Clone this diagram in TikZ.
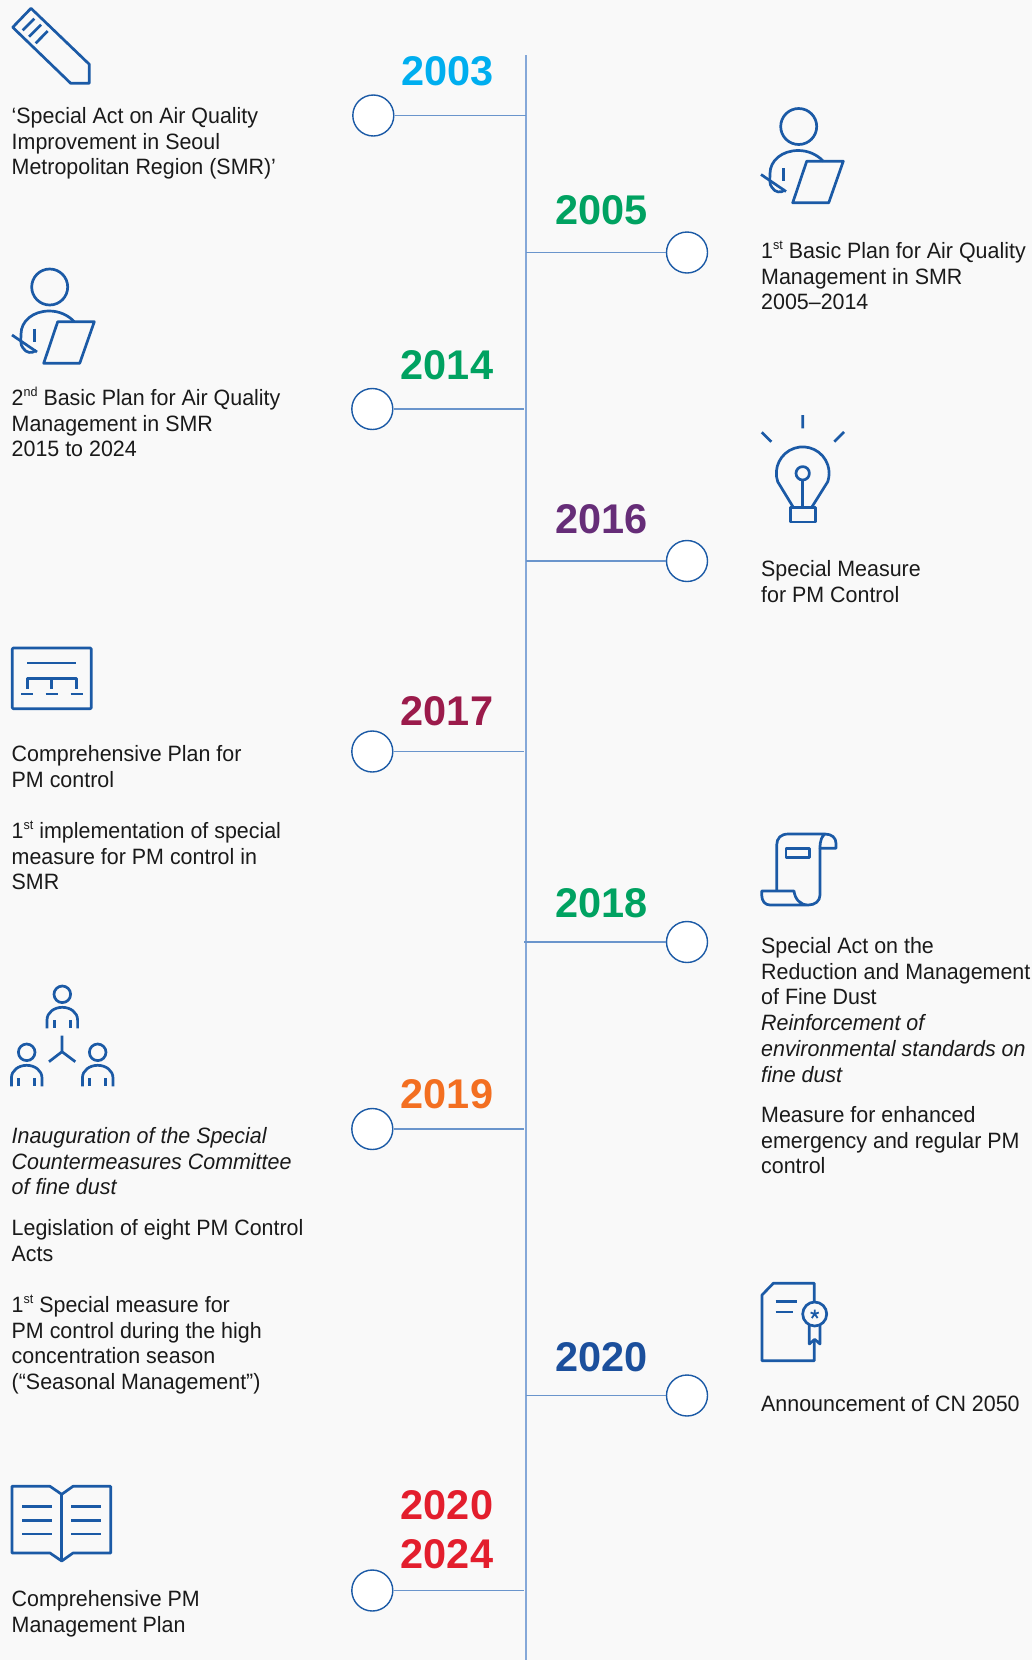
\documentclass[tikz,border=0pt]{standalone}
\usepackage{fontspec}
\setmainfont[FakeStretch=0.965]{Liberation Sans}
\newfontfamily\yearf{Liberation Sans}
\newcommand{\fl}{\rule{0pt}{20pt}}
\newcommand{\sps}[1]{\raisebox{0.40em}{\fontsize{13}{13}\selectfont #1}}
\definecolor{bg}{HTML}{F9F9F9}
\definecolor{ic}{HTML}{1B5AA6}
\definecolor{vl}{HTML}{85A8D8}
\definecolor{br}{HTML}{6A95CC}
\definecolor{ctext}{HTML}{1A1A1A}
\definecolor{y03}{HTML}{00AEEF}
\definecolor{ygr}{HTML}{00A261}
\definecolor{y16}{HTML}{662D78}
\definecolor{y17}{HTML}{9B1B4B}
\definecolor{y19}{HTML}{F36F21}
\definecolor{y20}{HTML}{1B4F9C}
\definecolor{y24}{HTML}{E31E2D}
\tikzset{
 yearlabel/.style={font=\yearf\bfseries\fontsize{41.5}{42}\selectfont,inner sep=0pt,anchor=center},
 para/.style={font=\fontsize{22.2}{25.8}\selectfont,color=ctext,inner sep=0pt,anchor=north west,align=left},
 dot/.style={circle,draw=ic,fill=white,line width=1.4pt,minimum size=41pt,inner sep=0pt},
 branch/.style={draw=br,line width=1.3pt},
 icon/.style={draw=ic,line width=2.7pt,line join=round},
 person/.pic={
  \draw[icon] (0,0) circle (18);
  \draw[icon] (24.6,34.7) .. controls (18.3,28) and (9.3,24) .. (-0.4,24) .. controls (-16.7,24) and (-28.7,34) .. (-28.7,47) .. controls (-28.7,52) and (-29.7,58) .. (-26.7,61) .. controls (-23.7,66) and (-17.7,67) .. (-13.7,63.3);
  \draw[icon] (8,34.7) -- (44.6,34.7) -- (30,76.3) -- (-6,76.3) -- cycle;
  \draw[icon] (-37.7,48) -- (-12.7,65);
  \draw[icon] (-15.4,41.7) -- (-15.4,54.7);
 },
 member/.pic={
  \draw[icon] (0,0) circle (8.3);
  \draw[icon] (-15.3,34) -- (-15.3,25.7) .. controls (-15.3,18) and (-8,13) .. (0,13) .. controls (8,13) and (15.3,18) .. (15.3,25.7) -- (15.3,34);
  \draw[icon] (-8,25.7) -- (-8,34) (8,25.7) -- (8,34);
 },
}
\begin{document}
\begin{tikzpicture}[x=1pt,y=-1pt]
\useasboundingbox[fill=bg] (0,0) rectangle (1032,1660);
\coordinate (top) at (526,55);
\coordinate (bot) at (526,1660);
\draw[draw=vl,line width=1.8pt] (top) -- (bot);
% dots and branches
\node[dot] (d03) at (373.3,115.5) {};
\node[dot] (d05) at (687,252.5) {};
\node[dot] (d14) at (372.3,409) {};
\node[dot] (d16) at (687,561) {};
\node[dot] (d17) at (372.3,751.5) {};
\node[dot] (d18) at (687,942) {};
\node[dot] (d19) at (372.3,1129) {};
\node[dot] (d20) at (687,1395.5) {};
\node[dot] (d24) at (372.3,1590.5) {};
\coordinate (j03) at (526,115.5);
\coordinate (j05) at (526,252.5);
\coordinate (j14) at (524,409);
\coordinate (j16) at (526,561);
\coordinate (j17) at (524,751.5);
\coordinate (j18) at (524,942);
\coordinate (j19) at (524,1129);
\coordinate (j20) at (526,1395.5);
\coordinate (j24) at (524,1590.5);
\draw[branch] (d03) -- (j03);
\draw[branch] (j05) -- (d05);
\draw[branch] (d14) -- (j14);
\draw[branch] (j16) -- (d16);
\draw[branch] (d17) -- (j17);
\draw[branch] (j18) -- (d18);
\draw[branch] (d19) -- (j19);
\draw[branch] (j20) -- (d20);
\draw[branch] (d24) -- (j24);
% years
\node[yearlabel,color=y03] (t03) at (447.5,71) {2003};
\node[yearlabel,color=ygr] (t05) at (601.5,210) {2005};
\node[yearlabel,color=ygr] (t14) at (447,365) {2014};
\node[yearlabel,color=y16] (t16) at (601.5,519) {2016};
\node[yearlabel,color=y17] (t17) at (447,711) {2017};
\node[yearlabel,color=ygr] (t18) at (601.5,903) {2018};
\node[yearlabel,color=y19] (t19) at (447,1094) {2019};
\node[yearlabel,color=y20] (t20) at (601.5,1357) {2020};
\node[yearlabel,color=y24] (t2a) at (447,1505.5) {2020};
\node[yearlabel,color=y24] (t2b) at (447,1554) {2024};
% paragraphs (y = first baseline - 20)
\node[para] (p03) at (11.5,103) {\fl‘Special Act on Air Quality\\Improvement in Seoul\\Metropolitan Region (SMR)’};
\node[para] (p05) at (761,238) {\fl 1\sps{st} Basic Plan for Air Quality\\Management in SMR\\2005--2014};
\node[para] (p14) at (11.5,385) {\fl 2\sps{nd} Basic Plan for Air Quality\\Management in SMR\\2015 to 2024};
\node[para] (p16) at (761,556) {\fl Special Measure\\for PM Control};
\node[para] (p17a) at (11.5,741) {\fl Comprehensive Plan for\\PM control};
\node[para] (p17b) at (11.5,818) {\fl 1\sps{st} implementation of special\\measure for PM control in\\SMR};
\node[para] (p18a) at (761,933) {\fl Special Act on the\\Reduction and Management\\of Fine Dust\\\itshape Reinforcement of\\\itshape environmental standards on\\\itshape fine dust};
\node[para] (p18b) at (761,1102) {\fl Measure for enhanced\\emergency and regular PM\\control};
\node[para] (p19a) at (11.5,1123) {\fl\itshape Inauguration of the Special\\\itshape Countermeasures Committee\\\itshape of fine dust};
\node[para] (p19b) at (11.5,1215) {\fl Legislation of eight PM Control\\Acts};
\node[para] (p19c) at (11.5,1292) {\fl 1\sps{st} Special measure for\\PM control during the high\\concentration season\\(“Seasonal Management”)};
\node[para] (p20) at (761,1391) {\fl Announcement of CN 2050};
\node[para] (p24) at (11.5,1586) {\fl Comprehensive PM\\Management Plan};
% pencil
\draw[icon] (31,8.3) -- (12.7,27.3) -- (70.7,83.3) -- (89.3,83.3) -- (89.3,64.3) -- cycle;
\draw[icon] (34.3,18.7) -- (22.7,30.3) (41,24.7) -- (29,36.7) (47.7,31) -- (35.7,43.3);
% persons
\pic at (798.7,126.5) {person};
\pic at (49.7,287) {person};
% bulb
\draw[icon] (802.7,415) -- (802.7,428.3) (761.7,432.3) -- (771.3,441.7) (844,432) -- (834.3,441.7);
\draw[icon] (793.3,507.3) -- (777.7,481.7) arc[start angle=161.4,end angle=378.6,radius=26.4] -- (811.7,507.3);
\draw[icon] (802.7,473.3) circle (6.7);
\draw[icon] (802.7,480) -- (802.7,507.3);
\draw[icon] (790.7,507.3) rectangle (815.3,522);
% board
\draw[icon,rounded corners=1pt] (12.3,648) rectangle (91.3,708.7);
\draw[icon] (27.3,663) -- (76,663);
\draw[icon] (27.3,688.7) -- (27.3,678.7) -- (76.7,678.7) -- (76.7,688.7) (51.7,678.7) -- (51.7,688.7);
\draw[icon] (21,694) -- (33.3,694) (45.7,694) -- (58,694) (70.7,694) -- (82.7,694);
% scroll
\draw[icon] (776.7,891) -- (776.7,845) .. controls (776.7,838) and (781,834) .. (788.3,834) -- (825,834) .. controls (832,834) and (836,838) .. (836,843.3) -- (836,848.3) -- (820,848.3) .. controls (820,840) and (822,836) .. (825,834);
\draw[icon] (820,848.3) -- (820,895) .. controls (820,901) and (815,905) .. (808.3,905) .. controls (800,905) and (795,899) .. (794,891) -- (761.7,891) -- (761.7,895) .. controls (761.7,901) and (765,905) .. (770,905) -- (808.3,905);
\draw[icon] (786,848.3) rectangle (809.3,857.7);
% committee
\pic at (62.3,994.3) {member};
\pic at (26.7,1052.3) {member};
\pic at (97.7,1052.3) {member};
\draw[icon] (62,1035.7) -- (62,1051.7) (49,1061.7) -- (62,1051.7) -- (75.3,1061.7);
% certificate
\draw[icon] (814.3,1302.7) -- (814.3,1283.3) -- (773.3,1283.3) -- (762,1295) -- (762,1360.7) -- (814.3,1360.7) -- (814.3,1341);
\draw[icon] (775.7,1301.7) -- (797.3,1301.7) (775.7,1312) -- (793.3,1312);
\draw[icon] (814.7,1314) circle (12);
\draw[draw=ic,line width=1.8pt] (814.7,1309.5) -- (814.7,1314) (810.6,1312.5) -- (814.7,1314) -- (818.8,1312.5) (814.7,1314) -- (811.8,1318) (814.7,1314) -- (817.6,1318);
\draw[icon] (809.3,1325) -- (809.3,1344) -- (814.7,1339.3) -- (820,1344) -- (820,1325);
% book
\draw[icon] (12,1486.3) -- (50,1486.3) -- (61.7,1494.3) -- (73,1486.3) -- (110.7,1486.3) -- (110.7,1553) -- (73,1553) -- (61.7,1561) -- (50,1553) -- (12,1553) -- cycle;
\draw[icon] (61.7,1494.3) -- (61.7,1561);
\draw[icon] (22,1506.7) -- (52,1506.7) (22,1520.3) -- (52,1520.3) (22,1534) -- (52,1534);
\draw[icon] (71.3,1506.7) -- (101,1506.7) (71.3,1520.3) -- (101,1520.3) (71.3,1534) -- (101,1534);
\end{tikzpicture}
\end{document}
